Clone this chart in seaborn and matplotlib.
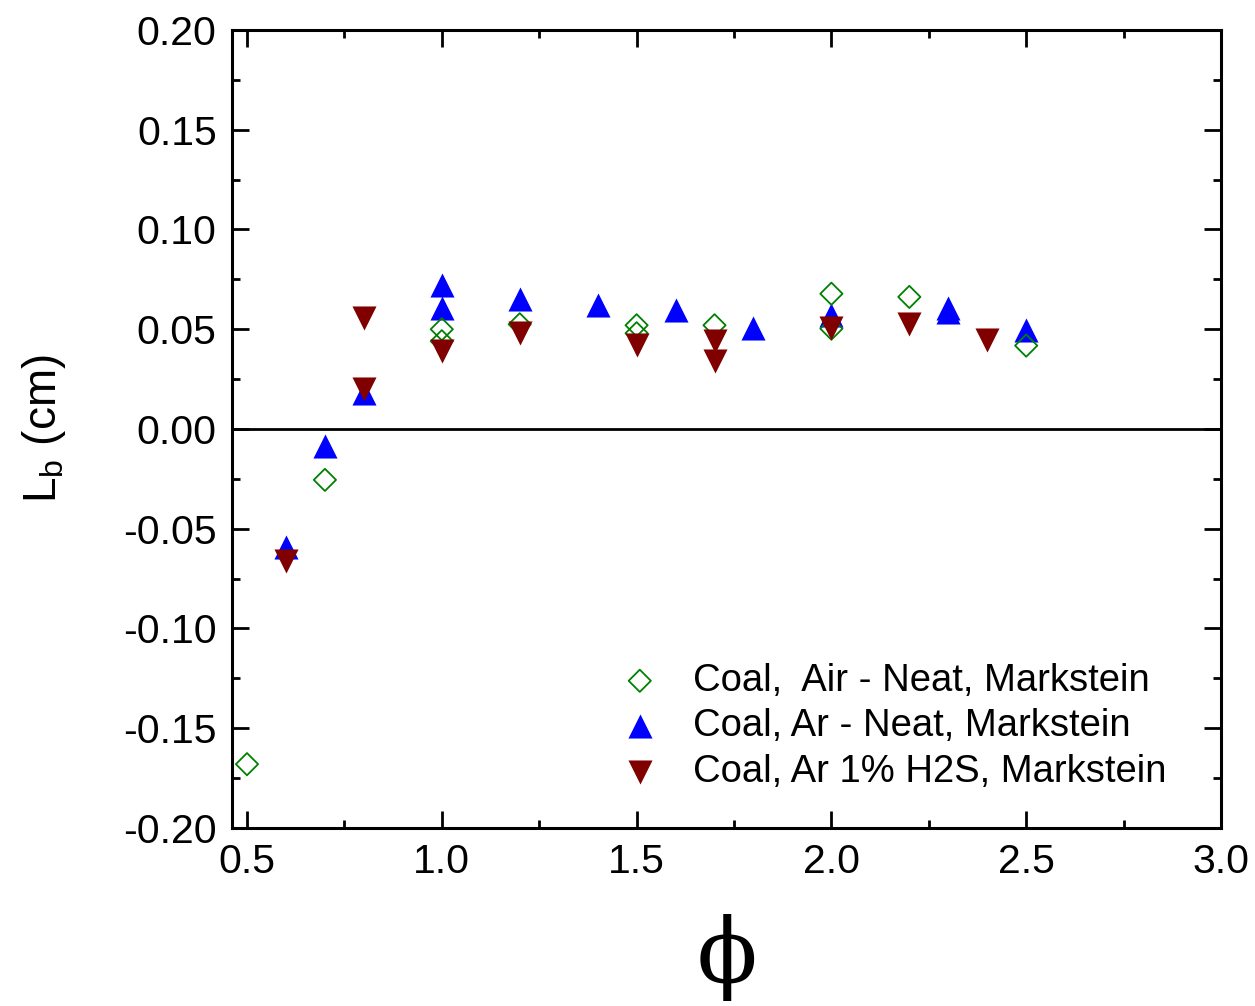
import matplotlib
matplotlib.use("Agg")
import matplotlib.pyplot as plt
import seaborn as sns
import numpy as np
import pandas as pd
from matplotlib.ticker import MultipleLocator

# Data
air_phi = [0.5, 0.7, 1.0, 1.0, 1.2, 1.5, 1.5, 1.7, 2.0, 2.0, 2.2, 2.5]
air_lb = [-0.168, -0.0255, 0.050, 0.044, 0.0525, 0.052, 0.048, 0.052, 0.0678, 0.0503, 0.0662, 0.0418]

ar_phi = [0.6, 0.7, 0.8, 1.0, 1.0, 1.2, 1.4, 1.6, 1.8, 2.0, 2.3, 2.3, 2.5]
ar_lb = [-0.059, -0.0085, 0.018, 0.0722, 0.0606, 0.065, 0.062, 0.0595, 0.0508, 0.057, 0.0605, 0.0588, 0.0495]

h2s_phi = [0.6, 0.8, 0.8, 1.0, 1.2, 1.5, 1.7, 1.7, 2.0, 2.2, 2.4]
h2s_lb = [-0.066, 0.0558, 0.0202, 0.039, 0.0483, 0.042, 0.0441, 0.034, 0.0508, 0.0525, 0.0444]

labels = ["Coal,  Air - Neat, Markstein",
          "Coal, Ar - Neat, Markstein",
          "Coal, Ar 1% H2S, Markstein"]

sns.set_theme(style="ticks", rc={"text.color": "black", "axes.labelcolor": "black",
                                 "xtick.color": "black", "ytick.color": "black",
                                 "axes.edgecolor": "black"})
plt.rcParams['font.family'] = ['Liberation Sans', 'DejaVu Sans']

fig = plt.figure(figsize=(12.55, 10.06), dpi=100)
ax = fig.add_axes([232/1255, 1-828/1006, (1221-232)/1255, (828-30)/1006])

ax.axhline(0, color='black', lw=2.0, zorder=1)

sns.scatterplot(x=air_phi, y=air_lb, marker='D', s=128, color='green',
                linewidth=1.3, ax=ax, label=labels[0], zorder=3)
ax.collections[-1].set_facecolor('none')
ax.collections[-1].set_edgecolor('#008000')

sns.scatterplot(x=ar_phi, y=ar_lb, marker='^', s=300, color='#0000FF',
                linewidth=0, ax=ax, label=labels[1], zorder=2)
sns.scatterplot(x=h2s_phi, y=h2s_lb, marker='v', s=300, color='#800000',
                linewidth=0, ax=ax, label=labels[2], zorder=4)

ax.set_xlim(0.4615, 3.0)
ax.set_ylim(-0.2, 0.2)
ax.xaxis.set_major_locator(MultipleLocator(0.5))
ax.xaxis.set_minor_locator(MultipleLocator(0.25))
ax.yaxis.set_major_locator(MultipleLocator(0.05))
ax.yaxis.set_minor_locator(MultipleLocator(0.025))
ax.xaxis.set_major_formatter(matplotlib.ticker.FormatStrFormatter('%.1f'))
ax.yaxis.set_major_formatter(matplotlib.ticker.FormatStrFormatter('%.2f'))

for s in ax.spines.values():
    s.set_linewidth(2.2)
    s.set_color('black')
    s.set_visible(True)

ax.tick_params(which='both', direction='in', top=True, right=True,
               width=2.0, colors='black', labelsize=29.5)
ax.tick_params(which='major', length=12, pad=11)
ax.tick_params(which='minor', length=6)

ax.set_xlabel('ϕ', fontsize=64, family=['DejaVu Serif'], labelpad=23, color='black')
ax.set_ylabel('L$_\\mathregular{b}$ (cm)', fontsize=33, labelpad=40, color='black')

leg = ax.legend(loc='upper left', bbox_to_anchor=(0.393, 0.207), frameon=False,
                fontsize=27.5, handlelength=1.0, handletextpad=0.9, borderpad=0,
                borderaxespad=0, labelspacing=0.25, markerscale=1.0)
for t in leg.get_texts():
    t.set_color('black')

fig.savefig('out.png', dpi=100)
